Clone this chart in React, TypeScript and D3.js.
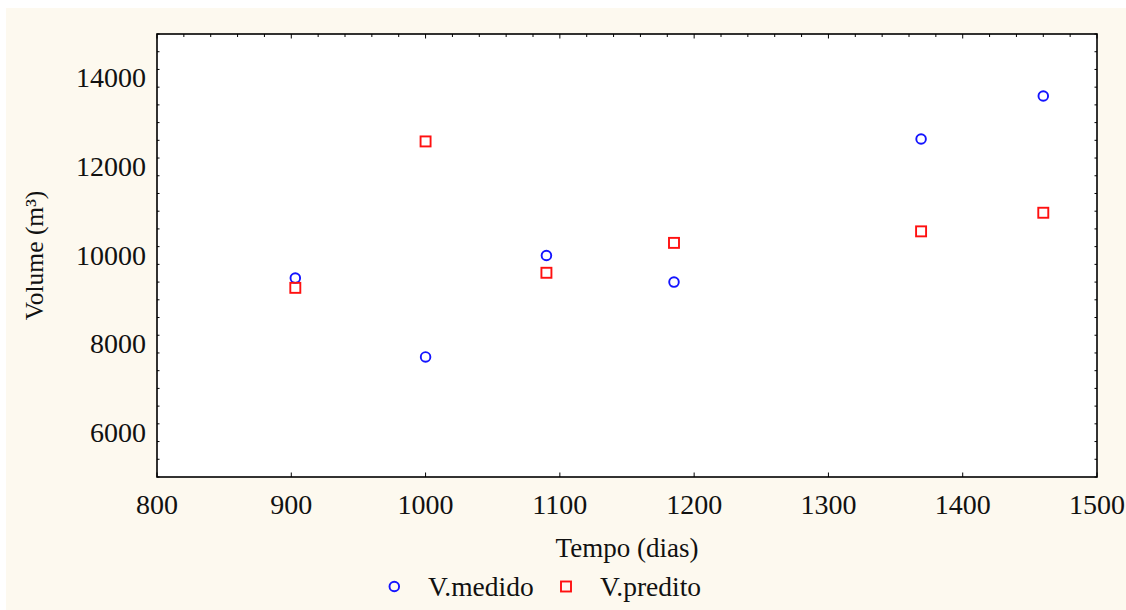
import React from 'react';
import * as d3 from 'd3';

// values
const tempo = [903, 1000, 1090, 1185, 1369, 1460];
const vMedido = [9490, 7710, 10000, 9400, 12630, 13600];
const vPredito = [9270, 12575, 9610, 10285, 10545, 10965];

const xTicks = [800, 900, 1000, 1100, 1200, 1300, 1400, 1500];
const yTicks = [6000, 8000, 10000, 12000, 14000];

const seriesNames = ['V.medido', 'V.predito'];

const W = 1126;
const H = 610;
const margin = { top: 34, right: 29, bottom: 133, left: 157 };
const FONT = '"Liberation Serif", "Times New Roman", serif';

const App = () => {
  const x = d3.scaleLinear().domain([800, 1500]).range([margin.left, W - margin.right]);
  const y = d3.scaleLinear().domain([5000, 15000]).range([H - margin.bottom, margin.top]);
  const [x0, x1] = x.range();
  const [y0, y1] = y.range(); // y0 bottom, y1 top

  const xMinor = d3.range(800, 1501, 20);
  const yMinor = d3.range(5000, 15001, 400);

  const blue = '#1414ff';
  const red = '#ff1010';
  const circle = (cx, cy, key) => (
    <circle key={key} cx={cx} cy={cy} r={4.8} fill="none" stroke={blue} strokeWidth={1.9} />
  );
  const square = (cx, cy, key) => (
    <rect key={key} x={cx - 5} y={cy - 5} width={10} height={10} fill="none" stroke={red} strokeWidth={1.9} />
  );

  return (
    <svg width={W} height={H} style={{ position: 'absolute', left: 0, top: 0, display: 'block' }}>
      <rect x={0} y={0} width={W} height={H} fill="#ffffff" />
      <rect x={6} y={8} width={W - 6} height={H - 8} fill="#fdf9ef" />
      <rect x={x0} y={y1} width={x1 - x0} height={y0 - y1} fill="#ffffff" />

      {/* minor / major ticks, all pointing inside */}
      <g stroke="#000" strokeWidth={1}>
        {xMinor.map(v => {
          const major = v % 100 === 0;
          return <line key={'t' + v} x1={x(v)} x2={x(v)} y1={y1} y2={y1 + (major ? 4.5 : 3)} />;
        })}
        {xTicks.map(v => (
          <line key={'b' + v} x1={x(v)} x2={x(v)} y1={y0} y2={y0 - 4.5} />
        ))}
        {yMinor.map(v => {
          const major = v % 2000 === 0;
          const len = major ? 4.5 : 2.5;
          return (
            <g key={'y' + v}>
              <line x1={x0} x2={x0 + len} y1={y(v)} y2={y(v)} />
              <line x1={x1} x2={x1 - len} y1={y(v)} y2={y(v)} />
            </g>
          );
        })}
      </g>

      <rect x={x0} y={y1} width={x1 - x0} height={y0 - y1} fill="none" stroke="#000" strokeWidth={1.6} />

      {/* tick labels */}
      <g fontFamily={FONT} fontSize={28} fill="#111">
        {xTicks.map(v => (
          <text key={'xl' + v} x={x(v)} y={y0 + 37} textAnchor="middle">{v}</text>
        ))}
        {yTicks.map(v => (
          <text key={'yl' + v} x={x0 - 11} y={y(v) + 9} textAnchor="end">{v}</text>
        ))}
      </g>

      {/* axis titles */}
      <text x={(x0 + x1) / 2} y={557} textAnchor="middle" fontFamily={FONT} fontSize={27} fill="#111">
        Tempo (dias)
      </text>
      <text
        transform={`translate(43,${(y0 + y1) / 2}) rotate(-90)`}
        textAnchor="middle"
        fontFamily={FONT}
        fontSize={25.5}
        fill="#111"
      >
        Volume (m³)
      </text>

      {/* points */}
      <g>
        {tempo.map((t, i) => circle(x(t), y(vMedido[i]), 'm' + i))}
        {tempo.map((t, i) => square(x(t), y(vPredito[i]), 'p' + i))}
      </g>

      {/* legend */}
      <g fontFamily={FONT} fontSize={27.5} fill="#111">
        {circle(394.3, 586.5, 'lg0')}
        <text x={428} y={596}>{seriesNames[0]}</text>
        {square(566, 586.5, 'lg1')}
        <text x={600} y={596}>{seriesNames[1]}</text>
      </g>
    </svg>
  );
};

export default App;
